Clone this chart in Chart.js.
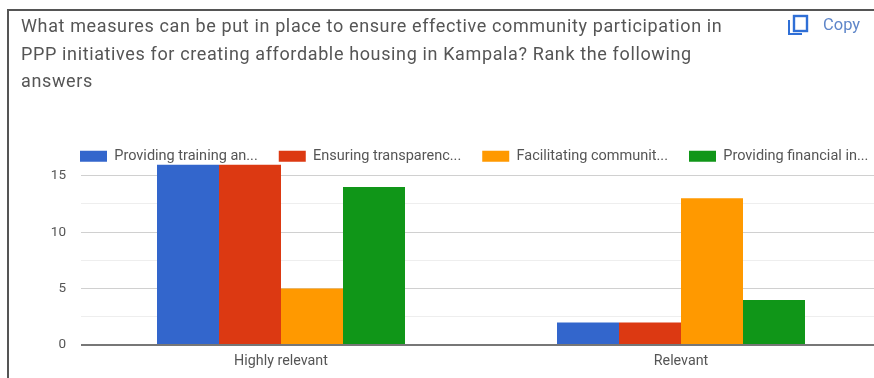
<!DOCTYPE html>
<html>
<head>
<meta charset="utf-8">
<title>Community participation in PPP initiatives</title>
<script src="https://cdn.jsdelivr.net/npm/chart.js@4"></script>
<style>
    html, body { margin: 0; padding: 0; background: #fff; }
    body { width: 874px; height: 378px; overflow: hidden; position: relative; font-family: Roboto, sans-serif; }
    #frame { position: absolute; left: 7px; top: 9px; width: 870px; height: 372px; border: 2px solid #555; box-sizing: border-box; }
    #question { position: absolute; left: 21px; top: 12px; width: 760px; font-size: 18px; letter-spacing: 0.63px; line-height: 27.5px; color: #555; }
    #copy { position: absolute; left: 823px; top: 15px; font-size: 16.5px; color: #5f86c9; }
    #icon { position: absolute; left: 787px; top: 14px; width: 22px; height: 22px; }
    #chartWrap { position: absolute; left: 0; top: 0; width: 874px; height: 378px; overflow: hidden; }
</style>
</head>
<body>
<div id="frame"></div>
<div id="chartWrap"><canvas id="answersChart" width="881" height="378" style="display:block;width:881px;height:378px"></canvas></div>
<div id="question">What measures can be put in place to ensure effective community participation in<br>PPP initiatives for creating affordable housing in Kampala? Rank the following<br>answers</div>
<svg id="icon" viewBox="0 0 22 22"><rect x="7" y="2" width="13" height="15" fill="none" stroke="#2f6fd6" stroke-width="2.4"/><path d="M2 6 V20 H15" fill="none" stroke="#2f6fd6" stroke-width="2"/></svg>
<div id="copy">Copy</div>
<script>
const categories = ["Highly relevant", "Relevant"];
const seriesNames = ["Providing training an...", "Ensuring transparenc...", "Facilitating communit...", "Providing financial in..."];
const trainingValues = [16, 2];
const transparencyValues = [16, 2];
const facilitatingValues = [5, 13];
const financialValues = [14, 4];
const seriesColors = ["#3366cc", "#dc3912", "#ff9900", "#109618"];
const yTicks = [0, 2.5, 5, 7.5, 10, 12.5, 15];

const seriesValues = [trainingValues, transparencyValues, facilitatingValues, financialValues];

// The legend sits just above the plot, lined up with its left edge.
// right is pushed out too, otherwise the last item wraps when it is drawn.
const legendPlacement = {
    id: "legendPlacement",
    afterLayout(chart) {
        const legend = chart.legend;
        legend.left = chart.chartArea.left - legend.options.labels.padding - 1;
        legend.right = legend.left + 900;
        legend.top = 149 - legend.options.labels.padding;
        legend.bottom = legend.top + legend.height;
    }
};

new Chart(document.getElementById("answersChart"), {
    type: "bar",
    data: {
        labels: categories,
        datasets: seriesNames.map((name, i) => ({
            label: name,
            data: seriesValues[i],
            backgroundColor: seriesColors[i],
            barPercentage: 1,
            categoryPercentage: 0.62
        }))
    },
    plugins: [legendPlacement],
    options: {
        responsive: false,
        animation: false,
        layout: { padding: { top: 119 } },
        plugins: {
            tooltip: { enabled: false },
            legend: {
                position: "top",
                align: "start",
                labels: {
                    boxWidth: 27,
                    boxHeight: 11,
                    padding: 21,
                    color: "#555",
                    font: { family: "Roboto", size: 14.5 }
                }
            }
        },
        scales: {
            x: {
                grid: { display: false },
                border: { display: false },
                ticks: { color: "#555", font: { family: "Roboto", size: 14.3 }, padding: 0, maxRotation: 0 },
                afterFit(scale) { scale.height = 33; }
            },
            y: {
                min: 0,
                max: 16,
                border: { display: false },
                grid: {
                    drawTicks: false,
                    color(ctx) {
                        if (ctx.tick.value === 0) return "#777";
                        return ctx.tick.value % 5 === 0 ? "#d0d0d0" : "#eeeeee";
                    },
                    lineWidth(ctx) { return ctx.tick.value === 0 ? 2 : 1; }
                },
                ticks: {
                    color: "#555",
                    font: { family: "Roboto", size: 13.5 },
                    padding: 15,
                    callback(value) { return value % 5 === 0 ? value : ""; }
                },
                afterBuildTicks(scale) { scale.ticks = yTicks.map(v => ({ value: v })); },
                afterFit(scale) { scale.width = 81; }
            }
        }
    }
});
</script>
</body>
</html>
